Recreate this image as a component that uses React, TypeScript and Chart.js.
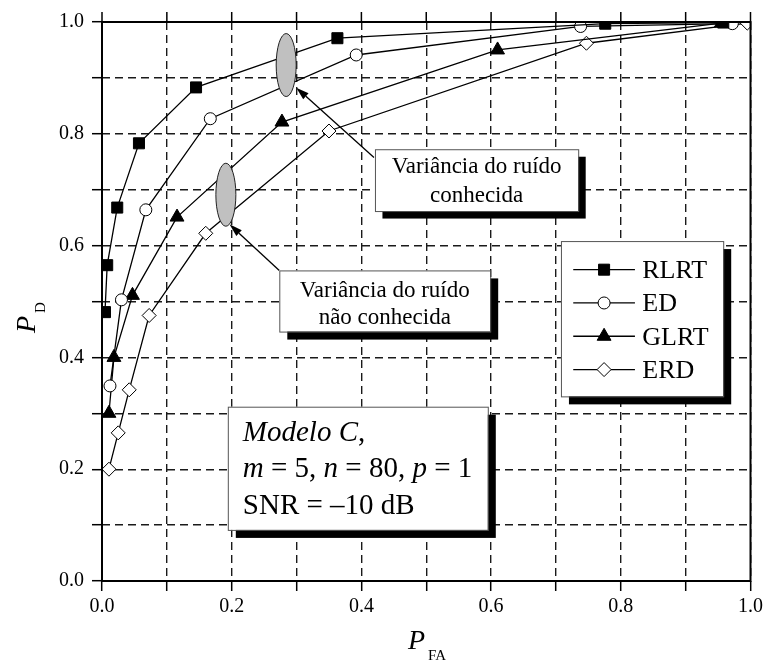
import React, { useEffect, useRef } from 'react';
import { Chart, registerables } from 'chart.js';

Chart.register(...registerables);

// ---------- data ----------
const seriesNames = ['RLRT', 'ED', 'GLRT', 'ERD'];

const rlrtX = [0.0046, 0.008, 0.0235, 0.057, 0.145, 0.363, 0.776, 0.958];
const rlrtY = [0.481, 0.565, 0.668, 0.783, 0.883, 0.971, 0.997, 0.999];

const edX = [0.0123, 0.030, 0.0676, 0.167, 0.392, 0.738, 0.972];
const edY = [0.349, 0.503, 0.664, 0.827, 0.941, 0.992, 0.997];

const glrtX = [0.0107, 0.0184, 0.047, 0.1157, 0.2775, 0.61, 0.955];
const glrtY = [0.300, 0.400, 0.511, 0.651, 0.821, 0.950, 0.998];

const erdX = [0.0107, 0.025, 0.042, 0.0727, 0.160, 0.350, 0.747, 0.995];
const erdY = [0.200, 0.265, 0.342, 0.475, 0.622, 0.805, 0.962, 0.998];

const xTickLabels = ['0.0', '0.2', '0.4', '0.6', '0.8', '1.0'];
const yTickLabels = ['0.0', '0.2', '0.4', '0.6', '0.8', '1.0'];

const annotKnownText = ['Variância do ruído', 'conhecida'];
const annotUnknownText = ['Variância do ruído', 'não conhecida'];

const FONT = '"Liberation Serif", "Times New Roman", serif';

const toPts = (xs: number[], ys: number[]) => xs.map((x, i) => ({ x, y: ys[i] }));

const styles = [
  { pointStyle: 'rect', radius: 7.8, fill: '#000' },
  { pointStyle: 'circle', radius: 6, fill: '#fff' },
  { pointStyle: 'triangle', radius: 8, fill: '#000' },
  { pointStyle: 'rectRot', radius: 7, fill: '#fff' },
];

function drawMarker(ctx: CanvasRenderingContext2D, kind: string, x: number, y: number, r: number, fill: string) {
  ctx.save();
  ctx.beginPath();
  if (kind === 'rect') {
    const s = Math.SQRT1_2 * r;
    ctx.rect(x - s, y - s, 2 * s, 2 * s);
  } else if (kind === 'circle') {
    ctx.arc(x, y, r, 0, Math.PI * 2);
  } else if (kind === 'triangle') {
    for (let k = 0; k < 3; k++) {
      const a = (k * 2 * Math.PI) / 3;
      const px = x + Math.sin(a) * r;
      const py = y - Math.cos(a) * r;
      if (k === 0) ctx.moveTo(px, py); else ctx.lineTo(px, py);
    }
    ctx.closePath();
  } else {
    ctx.moveTo(x - r, y);
    ctx.lineTo(x, y - r);
    ctx.lineTo(x + r, y);
    ctx.lineTo(x, y + r);
    ctx.closePath();
  }
  ctx.fillStyle = fill;
  ctx.fill();
  ctx.lineWidth = 1;
  ctx.strokeStyle = '#000';
  ctx.stroke();
  ctx.restore();
}

function shadowBox(ctx: CanvasRenderingContext2D, x1: number, y1: number, x2: number, y2: number, off: number) {
  ctx.save();
  ctx.fillStyle = '#000';
  ctx.fillRect(x1 + off, y1 + off, x2 - x1, y2 - y1);
  ctx.fillStyle = '#fff';
  ctx.fillRect(x1, y1, x2 - x1, y2 - y1);
  ctx.strokeStyle = '#555';
  ctx.lineWidth = 1;
  ctx.strokeRect(x1 + 0.5, y1 + 0.5, x2 - x1, y2 - y1);
  ctx.restore();
}

function arrow(ctx: CanvasRenderingContext2D, x1: number, y1: number, x2: number, y2: number) {
  const ang = Math.atan2(y2 - y1, x2 - x1);
  const L = 13, W = 4;
  const bx = x2 - Math.cos(ang) * L;
  const by = y2 - Math.sin(ang) * L;
  ctx.save();
  ctx.strokeStyle = '#000';
  ctx.lineWidth = 1.3;
  ctx.beginPath();
  ctx.moveTo(x1, y1);
  ctx.lineTo(bx, by);
  ctx.stroke();
  ctx.fillStyle = '#000';
  ctx.beginPath();
  ctx.moveTo(x2, y2);
  ctx.lineTo(bx - Math.sin(ang) * W, by + Math.cos(ang) * W);
  ctx.lineTo(bx + Math.sin(ang) * W, by - Math.cos(ang) * W);
  ctx.closePath();
  ctx.fill();
  ctx.restore();
}

function ellipse(ctx: CanvasRenderingContext2D, cx: number, cy: number, rx: number, ry: number) {
  ctx.save();
  ctx.beginPath();
  ctx.ellipse(cx, cy, rx, ry, 0, 0, Math.PI * 2);
  ctx.fillStyle = '#c0c0c0';
  ctx.fill();
  ctx.strokeStyle = '#222';
  ctx.lineWidth = 1;
  ctx.stroke();
  ctx.restore();
}

function rich(ctx: CanvasRenderingContext2D, x: number, y: number, parts: [string, boolean][], size: number) {
  let cx = x;
  for (const [t, it] of parts) {
    ctx.font = `${it ? 'italic ' : ''}${size}px ${FONT}`;
    ctx.fillText(t, cx, y);
    cx += ctx.measureText(t).width;
  }
}

const decorPlugin = {
  id: 'decor',
  beforeDraw(chart: any) {
    const ctx = chart.ctx;
    ctx.save();
    ctx.fillStyle = '#fff';
    ctx.fillRect(0, 0, chart.width, chart.height);
    ctx.restore();
  },
  afterDraw(chart: any) {
    const ctx: CanvasRenderingContext2D = chart.ctx;
    const xs = chart.scales.x;
    const ys = chart.scales.y;
    const { left, right, top, bottom } = chart.chartArea;
    const X = (v: number) => xs.getPixelForValue(v);
    const Y = (v: number) => ys.getPixelForValue(v);

    // frame
    ctx.save();
    ctx.strokeStyle = '#000';
    ctx.lineWidth = 2;
    ctx.strokeRect(left, top, right - left, bottom - top);
    // top ticks
    ctx.lineWidth = 1.5;
    for (let i = 0; i <= 10; i++) {
      const px = X(i / 10);
      ctx.beginPath();
      ctx.moveTo(px, top - 10);
      ctx.lineTo(px, top);
      ctx.stroke();
    }
    ctx.restore();

    // ellipses
    ellipse(ctx, X(0.284), Y(0.923), 10, 31.5);
    ellipse(ctx, X(0.191), Y(0.691), 10, 31.5);

    // arrows
    arrow(ctx, X(0.4194), Y(0.7575), X(0.2995), Y(0.8826));
    arrow(ctx, X(0.2734), Y(0.5556), X(0.1966), Y(0.638));

    ctx.save();
    ctx.fillStyle = '#000';
    ctx.textBaseline = 'alphabetic';
    ctx.textAlign = 'center';

    // annotation box: known
    {
      const x1 = X(0.4209), x2 = X(0.7343), y1 = Y(0.7724), y2 = Y(0.6618);
      shadowBox(ctx, x1, y1, x2, y2, 7.5);
      ctx.font = `23px ${FONT}`;
      ctx.fillStyle = '#000';
      ctx.fillText(annotKnownText[0], (x1 + x2) / 2, y1 + 24);
      ctx.fillText(annotKnownText[1], (x1 + x2) / 2, y1 + 53);
    }
    // annotation box: unknown
    {
      const x1 = X(0.2734), x2 = X(0.5986), y1 = Y(0.5556), y2 = Y(0.4462);
      shadowBox(ctx, x1, y1, x2, y2, 8);
      ctx.font = `23px ${FONT}`;
      ctx.fillStyle = '#000';
      ctx.fillText(annotUnknownText[0], (x1 + x2) / 2, y1 + 26.5);
      ctx.fillText(annotUnknownText[1], (x1 + x2) / 2, y1 + 54);
    }
    ctx.restore();

    // legend
    {
      const x1 = X(0.7077), x2 = X(0.9579), y1 = Y(0.6081), y2 = Y(0.3303);
      shadowBox(ctx, x1, y1, x2, y2, 8);
      ctx.save();
      ctx.font = `26px ${FONT}`;
      ctx.fillStyle = '#000';
      ctx.textAlign = 'left';
      ctx.textBaseline = 'alphabetic';
      seriesNames.forEach((name, i) => {
        const ry = y1 + 28.6 + i * 33.3;
        const lx1 = x1 + 12.3, lx2 = x1 + 74;
        ctx.strokeStyle = '#000';
        ctx.lineWidth = 1.3;
        ctx.beginPath();
        ctx.moveTo(lx1, ry);
        ctx.lineTo(lx2, ry);
        ctx.stroke();
        const st = styles[i];
        drawMarker(ctx, st.pointStyle, (lx1 + lx2) / 2, ry, st.radius, st.fill);
        ctx.fillStyle = '#000';
        ctx.fillText(name, x1 + 81.3, ry + 8.5);
      });
      ctx.restore();
    }

    // info box
    {
      const x1 = X(0.194), x2 = X(0.5949), y1 = Y(0.3118), y2 = Y(0.0914);
      shadowBox(ctx, x1, y1, x2, y2, 8);
      ctx.save();
      ctx.fillStyle = '#000';
      ctx.textAlign = 'left';
      ctx.textBaseline = 'alphabetic';
      const tx = x1 + 15;
      rich(ctx, tx, y1 + 34, [['Modelo C', true], [',', false]], 29);
      rich(ctx, tx, y1 + 70.5, [['m', true], [' = 5, ', false], ['n', true], [' = 80, ', false], ['p', true], [' = 1', false]], 29);
      rich(ctx, tx, y1 + 107.5, [['SNR = \u201310 dB', false]], 29);
      ctx.restore();
    }

    // axis titles
    ctx.save();
    ctx.fillStyle = '#000';
    ctx.textAlign = 'left';
    ctx.textBaseline = 'alphabetic';
    rich(ctx, 408, 649, [['P', true]], 28);
    ctx.font = `15px ${FONT}`;
    ctx.fillText('FA', 428, 660);
    ctx.translate(35, 333);
    ctx.rotate(-Math.PI / 2);
    rich(ctx, 0, 0, [['P', true]], 28);
    ctx.font = `15px ${FONT}`;
    ctx.fillText('D', 20, 10);
    ctx.restore();
  },
};

const tickCb = (labels: string[]) => (value: any) => {
  const v = Number(value);
  const idx = Math.round(v * 5);
  if (Math.abs(v * 5 - idx) < 1e-6) return labels[idx];
  return '';
};

export default function App() {
  const ref = useRef<HTMLCanvasElement | null>(null);
  useEffect(() => {
    if (!ref.current) return;
    const series = [toPts(rlrtX, rlrtY), toPts(edX, edY), toPts(glrtX, glrtY), toPts(erdX, erdY)];
    const gridOpts = {
      color: '#1a1a1a',
      lineWidth: 1.4,
      tickLength: 10,
      tickColor: '#000',
      tickWidth: 1.5,
      tickBorderDash: [],
    };
    const chart = new Chart(ref.current, {
      type: 'line',
      data: {
        datasets: series.map((pts, i) => ({
          label: seriesNames[i],
          data: pts,
          borderColor: '#000',
          borderWidth: 1.3,
          tension: 0,
          fill: false,
          pointStyle: styles[i].pointStyle as any,
          pointRadius: styles[i].radius,
          pointBackgroundColor: styles[i].fill,
          pointBorderColor: '#000',
          pointBorderWidth: 1,
        })),
      },
      options: {
        animation: false,
        responsive: false,
        devicePixelRatio: 1,
        parsing: true,
        layout: { padding: { left: 0, right: 14, top: 22, bottom: 0 } },
        plugins: { legend: { display: false }, tooltip: { enabled: false } },
        scales: {
          x: {
            type: 'linear',
            min: 0,
            max: 1,
            afterFit: (s: any) => { s.height = 81; },
            ticks: {
              stepSize: 0.1,
              autoSkip: false,
              maxRotation: 0,
              padding: 4,
              color: '#000',
              font: { family: FONT, size: 20 },
              callback: tickCb(xTickLabels),
            },
            grid: gridOpts as any,
            border: { display: false, dash: [8, 5] },
          },
          y: {
            type: 'linear',
            min: 0,
            max: 1,
            afterFit: (s: any) => { s.width = 102; },
            ticks: {
              stepSize: 0.1,
              autoSkip: false,
              padding: 8,
              color: '#000',
              font: { family: FONT, size: 20 },
              callback: tickCb(yTickLabels),
            },
            grid: gridOpts as any,
            border: { display: false, dash: [8, 5] },
          },
        },
      },
      plugins: [decorPlugin],
    });
    return () => chart.destroy();
  }, []);
  return (
    <div style={{ position: 'absolute', left: 0, top: 0, width: 767, height: 662 }}>
      <canvas ref={ref} width={767} height={662} style={{ width: 767, height: 662, display: 'block' }} />
    </div>
  );
}
